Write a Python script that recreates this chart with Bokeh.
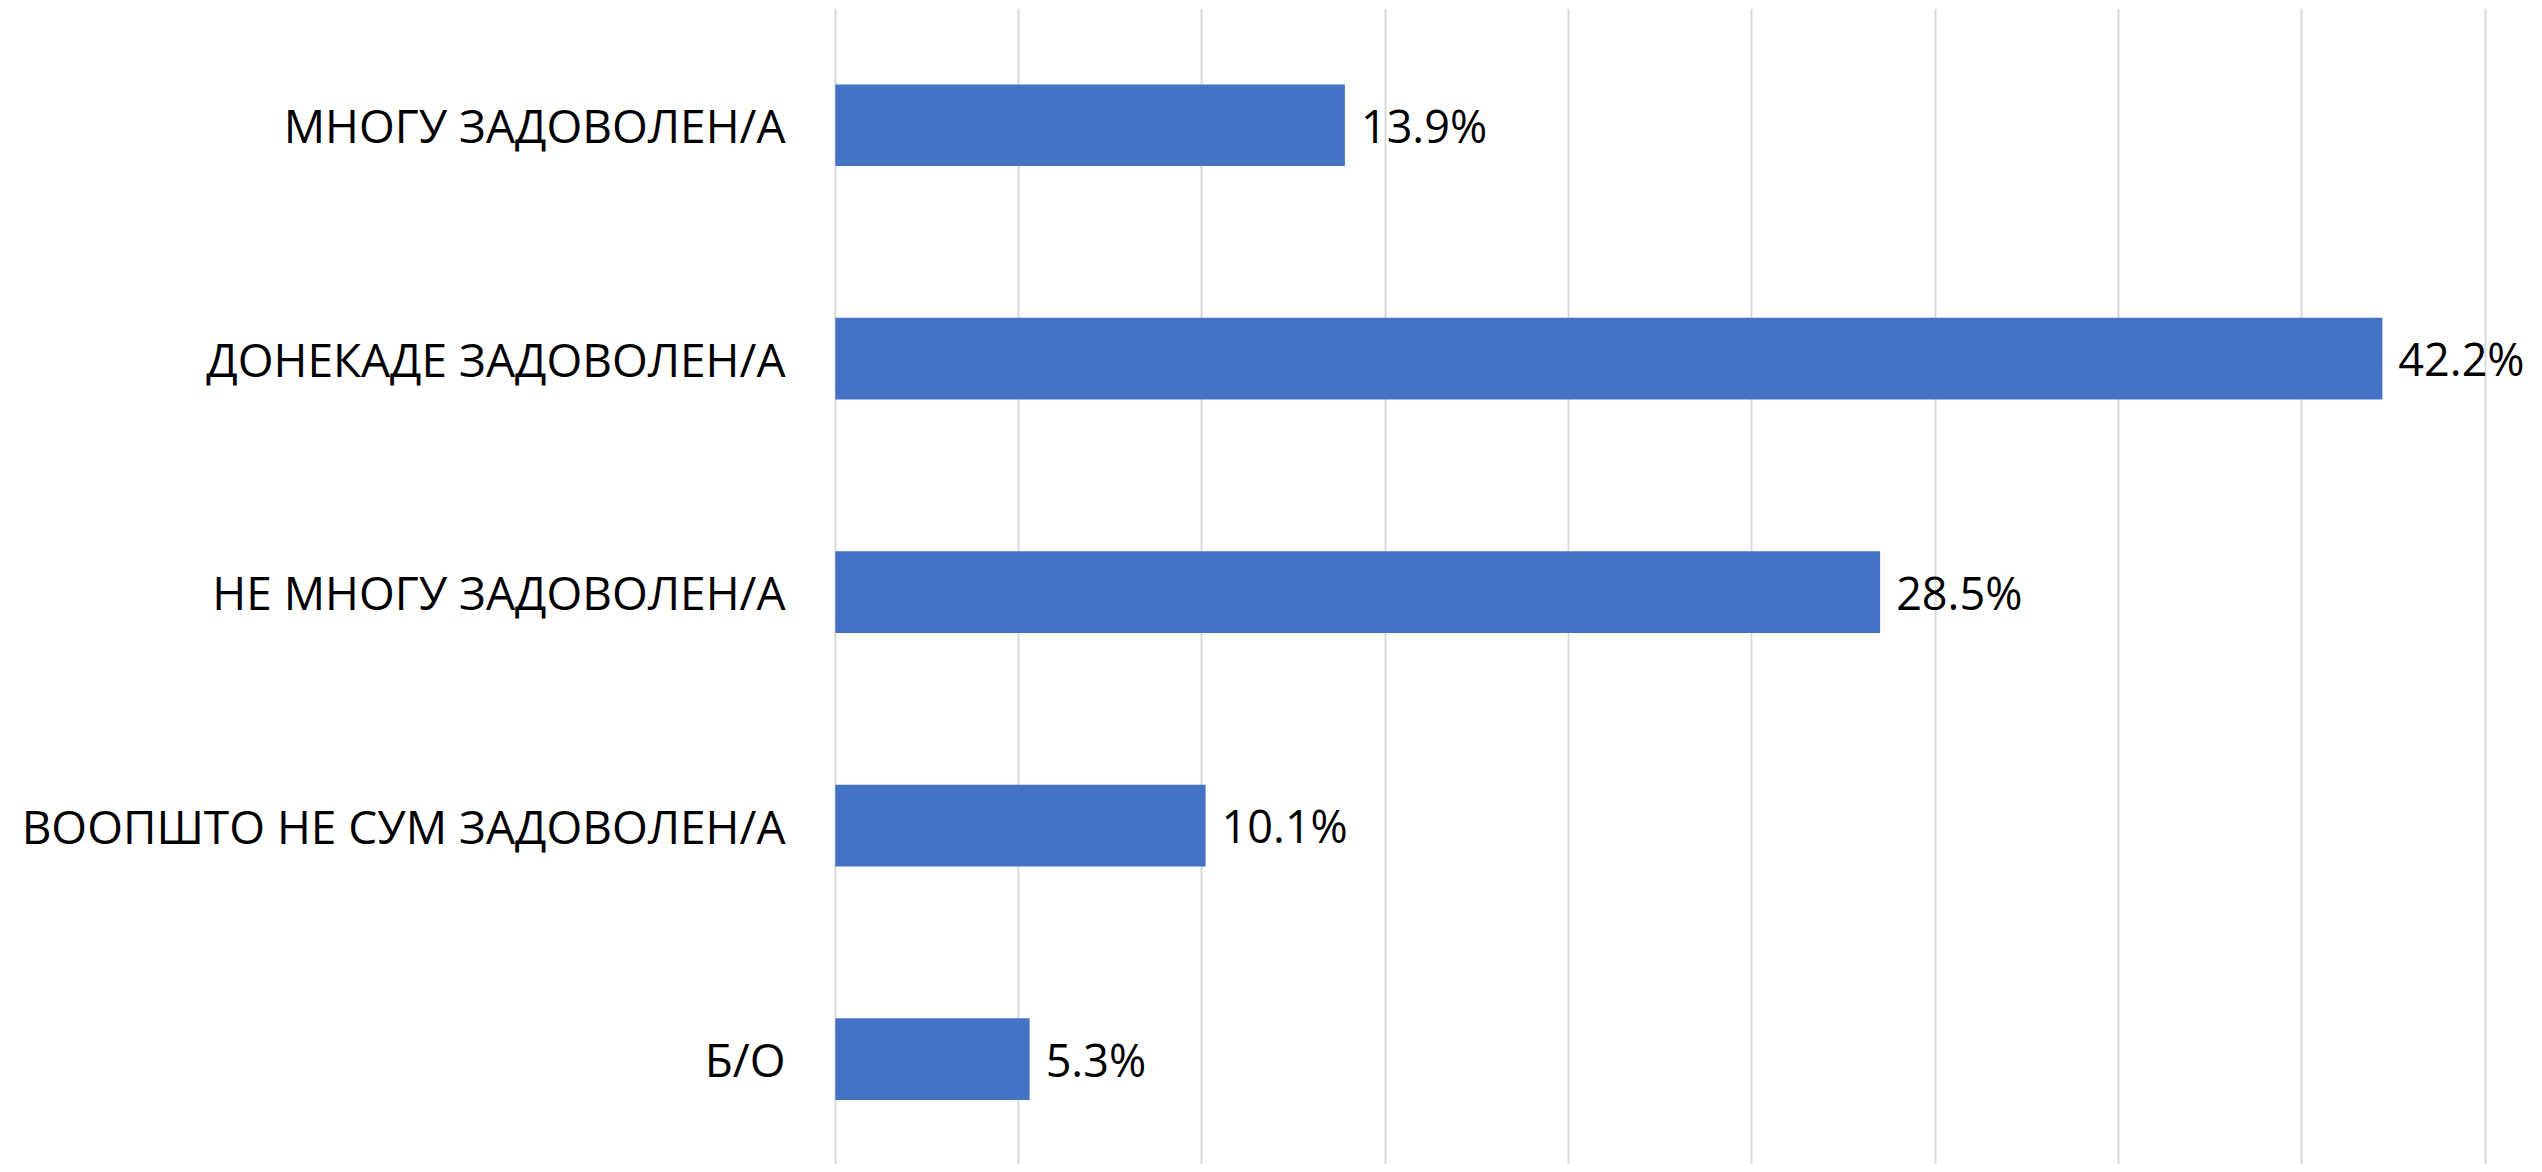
from bokeh.plotting import figure
from bokeh.models import Range1d, FixedTicker, ColumnDataSource
from bokeh.core.properties import value
from bokeh.embed import file_html
from bokeh.resources import INLINE

categories = ["МНОГУ ЗАДОВОЛЕН/А", "ДОНЕКАДЕ ЗАДОВОЛЕН/А", "НЕ МНОГУ ЗАДОВОЛЕН/А",
              "ВООПШТО НЕ СУМ ЗАДОВОЛЕН/А", "Б/О"]
values = [13.9, 42.2, 28.5, 10.1, 5.3]
grid_ticks = [0, 5, 10, 15, 20, 25, 30, 35, 40, 45]

n = len(categories)
ypos = [n - 1 - i for i in range(n)]
labels = [f"{v}%" for v in values]
src = ColumnDataSource(dict(y=ypos, v=values, lab=labels))

FONT = "Open Sans"
W, H = 2534, 1164
p = figure(width=W, height=H, output_backend="svg", toolbar_location=None,
           x_range=Range1d(-0.05, 46.35), y_range=Range1d(-0.451, n - 0.5),
           min_border_left=833, min_border_right=0, min_border_top=8, min_border_bottom=0)
p.outline_line_color = None
p.background_fill_color = "white"
p.border_fill_color = "white"

p.xaxis.visible = False
p.xaxis.ticker = FixedTicker(ticks=grid_ticks)
p.xgrid.ticker = FixedTicker(ticks=grid_ticks)
p.xgrid.grid_line_color = "#d9d9d9"
p.xgrid.grid_line_width = 2
p.ygrid.grid_line_color = None

p.yaxis.ticker = FixedTicker(ticks=ypos)
p.yaxis.major_label_overrides = {y: c for y, c in zip(ypos, categories)}
p.yaxis.axis_line_color = None
p.yaxis.major_tick_line_color = None
p.yaxis.minor_tick_line_color = None
p.yaxis.major_tick_out = 0
p.yaxis.major_tick_in = 0
p.yaxis.major_label_standoff = 48
p.yaxis.major_label_text_font = FONT
p.yaxis.major_label_text_font_size = "46px"
p.yaxis.major_label_text_color = "black"

p.hbar(y="y", right="v", left=0, height=0.35, source=src,
       fill_color="#4472C4", line_color=None)
p.text(x="v", y="y", text="lab", source=src, x_offset=16,
       text_baseline="middle", text_align="left",
       text_font=value(FONT), text_font_size="45px", text_color="black")

open("out.html", "w").write(file_html(p, INLINE))
